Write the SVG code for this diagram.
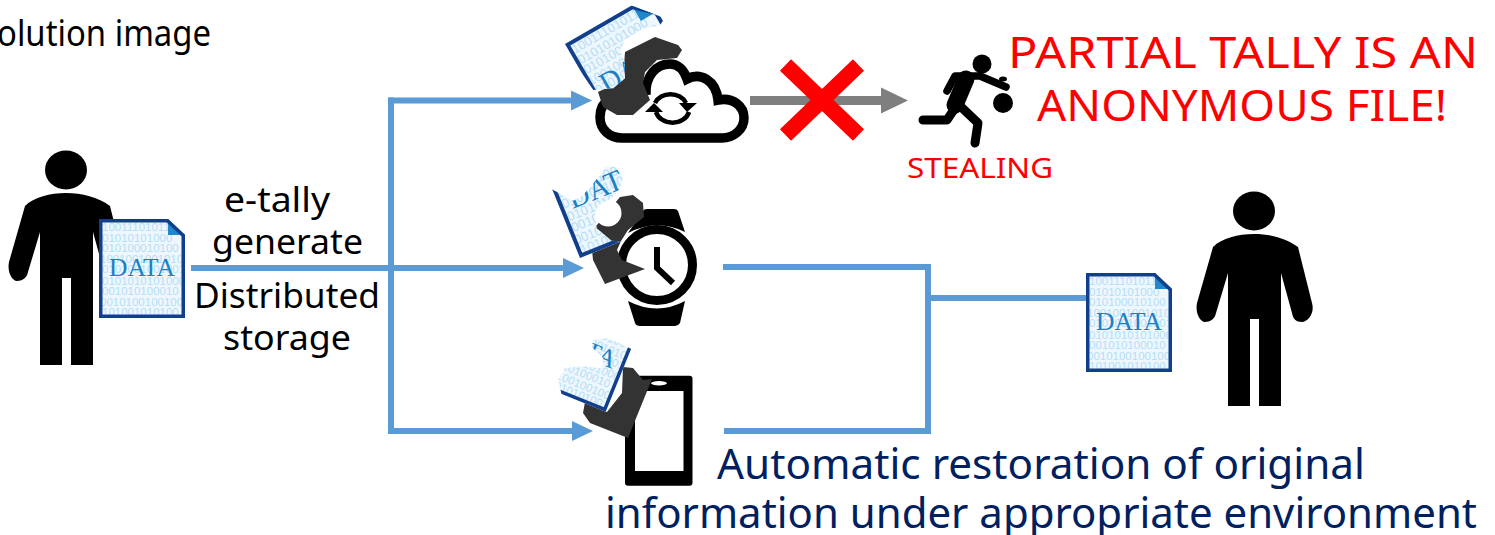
<svg xmlns="http://www.w3.org/2000/svg" width="1495" height="535" viewBox="0 0 1495 535">
<style>
.lbl{font-family:"Noto Sans","DejaVu Sans",sans-serif;text-anchor:start}
.blk{font-size:35px;fill:#000}
.red{fill:#f00}
.navy{font-size:41.500px;fill:#002060}
.bin{font-family:"Liberation Sans",sans-serif;font-size:11.5px;fill:#b5def6}
.dt{font-family:"Liberation Serif",serif;font-size:26px;fill:#1b80c4}
.wire{fill:none;stroke:#5b9bd5;stroke-width:6}
.dark{fill:#333}
</style>
<defs>
<marker id="ah" markerUnits="userSpaceOnUse" markerWidth="22" markerHeight="22" viewBox="0 0 22 22" refX="1" refY="11" orient="auto"><path d="M0 1L21 11L0 21Z" fill="#5b9bd5"/></marker>
<marker id="ag" markerUnits="userSpaceOnUse" markerWidth="28" markerHeight="28" viewBox="0 0 28 28" refX="1" refY="14" orient="auto"><path d="M0 1L27 14L0 27Z" fill="#7f7f7f"/></marker>
<clipPath id="dc"><path d="M0 0H69L86 16V99H0Z"/></clipPath>
<path id="body" d="M66 193C82 193 98 197 110 206L124 262C127 272 120 281 114 281C108 281 105 278 104 272L93 232V365H71V278H62V365H40V232L28 272C27 278 22 281 17 281C12 281 7 272 9 262L25 206C34 197 50 193 66 193Z"/>
<g id="doc">
<path d="M0 0H69L86 16V99H0Z" fill="#eef7fd"/>
<g clip-path="url(#dc)">
<text class="bin" x="3" y="12">10011101011</text>
<text class="bin" x="3" y="23">01010101000</text>
<text class="bin" x="3" y="33">010100010100</text>
<text class="bin" x="1" y="44">1001001001010</text>
<text class="bin" x="3" y="54">0101001001001</text>
<text class="bin" x="3" y="66">0101010101000</text>
<text class="bin" x="3" y="76">001010100010</text>
<text class="bin" x="1" y="87">0010100100100</text>
<text class="bin" x="3" y="97">101001010100</text>
</g>
<text class="dt" x="43" y="57" text-anchor="middle" textLength="66" lengthAdjust="spacingAndGlyphs">DATA</text>
<path d="M69 0V16H86Z" fill="#1f87cb"/>
<path d="M1.750 1.750H68.500L84.250 16.500V97.250H1.750Z" fill="none" stroke="#123f8c" stroke-width="3.500"/>
</g>
<clipPath id="tear1" transform="translate(550,0) scale(.3333)"><path d="M30 125L240 15L345 55L330 75L270 90L225 120L210 150L225 190L225 235L190 265L130 270Z"/></clipPath>
<clipPath id="tear2" transform="translate(540,170) scale(.3333)"><path d="M30 55L100 92L130 75L155 45L185 10L195 -10L225 -10L250 20L240 55L215 85L175 105L165 130L170 175L215 212L250 215L250 225L120 275Z"/></clipPath>
<clipPath id="tear3" transform="translate(540,330) scale(.3333)"><path d="M65 195L197 252L280 60L230 35L200 25L160 30L155 50L190 85L185 115L120 108L75 115L55 150Z"/></clipPath>
</defs>

<g id="connectors">
<path class="wire" d="M191 268H391"/>
<path class="wire" d="M391 97.500V434"/>
<path class="wire" d="M388 100.500H572" marker-end="url(#ah)"/>
<path class="wire" d="M388 431H573" marker-end="url(#ah)"/>
<path class="wire" d="M391 268H564" marker-end="url(#ah)"/>
<path class="wire" d="M723 267H928V431H724"/>
<path class="wire" d="M928 298H1088"/>
<path d="M750 100.500H882" fill="none" stroke="#7f7f7f" stroke-width="9" marker-end="url(#ag)"/>
</g>

<g id="title"><text class="lbl" x="-21" y="46" font-size="36" textLength="232" lengthAdjust="spacingAndGlyphs">Solution image</text></g>

<g id="person-left">
<ellipse cx="66" cy="170" rx="21" ry="19.500"/>
<use href="#body"/>
<use href="#doc" x="99" y="219"/>
</g>

<g id="label-generate">
<text class="lbl blk" x="224" y="212" textLength="106" lengthAdjust="spacingAndGlyphs">e-tally</text>
<text class="lbl blk" x="212" y="254" textLength="151" lengthAdjust="spacingAndGlyphs">generate</text>
<text class="lbl blk" x="194" y="308" textLength="186" lengthAdjust="spacingAndGlyphs">Distributed</text>
<text class="lbl blk" x="223" y="350" textLength="128" lengthAdjust="spacingAndGlyphs">storage</text>
</g>

<g id="cloud">
<path d="M646 95C645 75 657 64 670 64C678 64 684 70 687 79C700 72 716 80 718 100C733 97 744 106 744 118C744 130 733 138 722 138H622C610 138 600 130 600 117C600 108 604 102 610 98" fill="none" stroke="#000" stroke-width="9.500"/>
<path d="M655 103A17 15 0 0 1 686 103" fill="none" stroke="#000" stroke-width="4.500"/>
<path d="M679 103H697L687 112Z"/>
<path d="M656 112A17 14 0 0 0 689 112" fill="none" stroke="#000" stroke-width="4.500"/>
<path d="M645 112H663L654 103Z"/>
<path class="dark" d="M625 52L655 37L678 45L682 50L677 58L657 60L645 72L643 83L650 100L633 115H617L603 107L598 92L623 80Z"/>
<g clip-path="url(#tear1)"><use href="#doc" transform="translate(565,44) rotate(-30) scale(1.12)"/></g>
</g>

<g id="blocked">
<path d="M785.500 65L858.500 135M858.500 65L785.500 135" fill="none" stroke="#f00" stroke-width="16"/>
</g>

<g id="thief">
<circle cx="982" cy="64" r="9.500"/>
<path d="M947 91L955 76H980L1006 87" fill="none" stroke="#000" stroke-width="7.500" stroke-linecap="round" stroke-linejoin="round"/>
<path d="M966 79L955 105" fill="none" stroke="#000" stroke-width="17" stroke-linecap="round"/>
<path d="M955 108L947 120H923M958 104L978 123L975 143" fill="none" stroke="#000" stroke-width="9" stroke-linecap="round" stroke-linejoin="round"/>
<circle cx="1003" cy="103" r="10"/>
<ellipse cx="1003" cy="79" rx="4" ry="2.500"/>
<text class="lbl red" x="907" y="178" font-size="28" textLength="146" lengthAdjust="spacingAndGlyphs">STEALING</text>
</g>

<g id="warning">
<text class="lbl red" x="1008" y="68" font-size="43" textLength="470" lengthAdjust="spacingAndGlyphs">PARTIAL TALLY IS AN</text>
<text class="lbl red" x="1037" y="121" font-size="43" textLength="410" lengthAdjust="spacingAndGlyphs">ANONYMOUS FILE!</text>
</g>

<g id="watch">
<circle cx="657" cy="265" r="35.500" fill="none" stroke="#000" stroke-width="9"/>
<path d="M643 211Q644 209 647 209H674Q677 209 678 211L685 232Q657 218 628 233Z"/>
<path d="M628 301Q657 316 685 301L680 323Q678 326 675 326H640Q636 326 635 323Z"/>
<path d="M657 247V268L673 283" fill="none" stroke="#000" stroke-width="6"/>
<path class="dark" d="M620 197L633 195L643 203L644 217L628 230L621 241L617 250L622 260L645 269L605 284L593 260L590 230L597 225Z"/>
<circle cx="608" cy="213" r="13.500" fill="#fff"/>
<g clip-path="url(#tear2)"><use href="#doc" transform="translate(580,258) rotate(-22) scale(1.15) translate(0,-99)"/></g>
</g>

<g id="phone">
<rect x="625" y="375.700" width="67.500" height="110" rx="3"/>
<rect x="635" y="391" width="48.500" height="80" fill="#fff"/>
<ellipse cx="659" cy="383.300" rx="8" ry="2.200" fill="#fff"/>
<path class="dark" d="M623 367L633 368L643 380L652 379L628 438L590 423L583 413L585 402L607 412L622 393Z"/>
<ellipse cx="618" cy="388" rx="3.500" ry="7" fill="#fff" transform="rotate(20 618 388)"/>
<g clip-path="url(#tear3)"><use href="#doc" transform="translate(605.700,411.700) rotate(22) translate(-86,-99)"/></g>
</g>

<g id="person-right">
<use href="#doc" x="1086" y="273"/>
<ellipse cx="1254" cy="211" rx="21" ry="19.500"/>
<use href="#body" x="1188" y="41"/>
</g>

<g id="caption">
<text class="lbl navy" x="717" y="479" textLength="648" lengthAdjust="spacingAndGlyphs">Automatic restoration of original</text>
<text class="lbl navy" x="605" y="528" textLength="872" lengthAdjust="spacingAndGlyphs">information under appropriate environment</text>
</g>
</svg>
